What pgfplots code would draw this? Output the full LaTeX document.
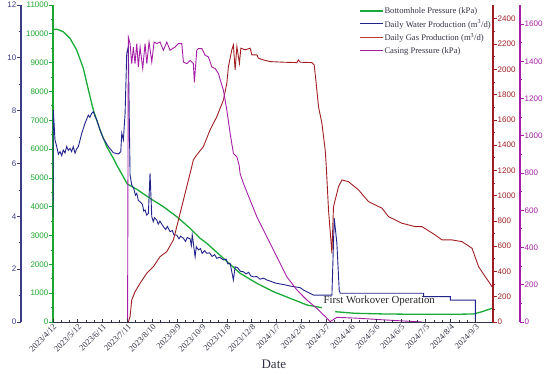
\documentclass[border=0pt]{standalone}
\usepackage{pgfplots}
\pgfplotsset{compat=1.18}
\usepackage{fontspec}
\setmainfont{Liberation Serif}
\newfontfamily\lsans{Liberation Sans}
\definecolor{cgreen}{RGB}{25,170,55}
\definecolor{cgreenax}{RGB}{30,165,45}
\definecolor{cnavy}{RGB}{35,35,140}
\definecolor{cnavyax}{RGB}{60,60,135}
\definecolor{cred}{RGB}{160,30,35}
\definecolor{credleg}{RGB}{195,55,55}
\definecolor{cpurple}{RGB}{165,30,165}
\definecolor{ctick}{RGB}{50,50,70}

\pgfplotsset{
  base/.style={scale only axis, width=440pt, height=317pt, xmin=0, xmax=531,
    /pgf/number format/assume math mode=true,
    /pgf/number format/1000 sep={},
    scaled y ticks=false,
    yticklabel style={font=\lsans\fontsize{8}{9}\selectfont, inner sep=1pt},
    major tick length=3.5pt, minor tick length=2pt,
    tick align=outside,
  },
  yonly/.style={base, hide x axis},
}

\begin{document}
\begin{tikzpicture}
% ---------- Bottomhole pressure (green, inner left) ----------
\begin{axis}[yonly, axis y line*=left,
  ymin=0, ymax=11000, ytick={0,1000,...,11000}, minor y tick num=1,
  y axis line style={cgreenax, line width=1.2pt},
  ytick style={cgreenax, line width=0.8pt},
  yticklabel style={text=cgreenax}]
\addplot[cgreen, line width=1.3pt] coordinates {
(0,10160)(4.5,10160)(12.4,10073)(20.5,9844)(28.6,9438)(36.6,8803)(44.7,7818)(48.7,7356)
(56.8,6662)(64.9,6083)(72.8,5680)(76.9,5448)(89.7,4789)(101.1,4605)(117.1,4292)(133.2,4001)
(149.4,3654)(165.5,3251)(177.5,2904)(185.6,2731)(205.7,2210)(225.8,1690)(246.0,1343)
(266.1,1051)(286.2,822)(306.4,590)(324.5,496)};
\addplot[cgreen, line width=1.3pt] coordinates {
(340.6,357)(364.7,302)(401.0,278)(441.2,267)(481.5,267)(507.6,278)(517.7,357)(529.8,475)};
\end{axis}
% ---------- Daily water production (navy, outer left) ----------
\begin{axis}[yonly, axis y line*=left,
  ymin=0, ymax=12, ytick={0,2,...,12}, minor y tick num=1,
  every outer y axis line/.append style={xshift=-32pt},
  every y tick label/.append style={xshift=-32pt},
  every y tick/.append style={xshift=-32pt},
  y axis line style={cnavyax, line width=1.2pt},
  ytick style={cnavyax, line width=0.8pt},
  yticklabel style={text=cnavyax}]
\addplot[cnavy, line width=0.9pt] coordinates {
(0,3.97)(0.4,8.02)(2.4,6.89)(4.5,6.64)(6.5,6.35)(8.5,6.45)(10.5,6.30)(12.4,6.51)(14.5,6.40)
(16.5,6.64)(18.5,6.50)(20.5,6.57)(22.5,6.45)(24.5,6.64)(26.6,6.39)(28.5,6.55)(30.6,6.64)
(34.7,7.14)(38.6,7.52)(42.6,7.83)(44.5,7.75)(46.7,7.90)(48.7,7.96)(50.5,7.80)(52.8,7.65)
(56.8,7.27)(60.7,6.95)(66.8,6.64)(72.8,6.41)(78.9,6.36)(81.8,6.45)(83.0,7.14)(84.9,6.89)
(87.0,7.90)(89.0,10.17)(90.9,10.42)(93.0,5.56)(95.0,5.19)(97.5,5.05)(99.5,4.80)(101.1,4.87)
(103,4.60)(105.1,4.55)(108,4.45)(109.5,4.20)(111.1,4.24)(113,4.05)(115.1,4.11)(117.1,5.63)
(119.2,3.99)(121.0,3.80)(122.5,3.95)(125.2,3.86)(127,3.70)(129,3.82)(133.2,3.61)(136,3.50)
(138,3.62)(141.3,3.42)(144,3.46)(146,3.30)(149.4,3.29)(152,3.15)(154,3.25)(157.4,3.17)
(160,3.05)(162,3.20)(165.5,3.14)(167,2.90)(168,3.30)(169.4,2.98)(171.5,2.47)(173,2.85)
(175.5,2.73)(178,2.78)(180,2.60)(183,2.70)(185.6,2.60)(189,2.62)(192,2.48)(195,2.55)
(197.7,2.41)(201,2.45)(205.7,2.35)(209,2.38)(211,2.20)(213.8,2.22)(217.7,1.59)(219.8,2.09)
(223,2.05)(226,1.92)(229.8,1.90)(233,1.82)(236,1.88)(239,1.74)(241.9,1.71)(246,1.72)
(250,1.62)(254,1.66)(258.1,1.59)(262,1.55)(266,1.50)(270.2,1.46)(278,1.42)(286.2,1.36)
(298.3,1.30)(302.3,1.21)(314.4,1.02)(336.6,1.02)(339.4,3.93)
(342.6,2.98)(345.4,1.21)(346.6,1.09)(447.2,1.09)(447.2,0.96)(479.5,0.96)(479.5,0.83)
(509.7,0.83)(509.7,0)};
\end{axis}
% ---------- Daily gas production (dark red, inner right) ----------
\begin{axis}[yonly, axis y line*=right,
  ymin=0, ymax=2510, ytick={0,200,...,2400}, minor y tick num=1,
  y axis line style={cred, line width=1.2pt},
  ytick style={cred, line width=0.8pt},
  yticklabel style={text=cred}]
\addplot[cred, line width=0.9pt] coordinates {
(90.9,0)(93.0,42)(95.0,174)(99.0,240)(105.1,307)(113.2,386)(121.1,438)(129.2,517)(137.3,557)
(145.3,650)(149.4,755)(157.4,966)(165.5,1178)(169.4,1283)(173.5,1323)(181.5,1389)(189.6,1521)
(197.7,1626)(205.7,1758)(209.8,1891)(211.7,2022)(215.8,2155)(217.7,2194)(219.8,1996)
(221.9,2181)(225.0,2049)(226.7,2168)(231.9,2155)(237.9,2168)(240.0,2115)(246.0,2115)
(247.9,2089)(254.0,2075)(262.1,2062)(278.1,2057)(294.3,2054)(296.2,2075)(298.3,2057)
(312.4,2054)(315.2,2036)(317.6,1891)(320.4,1705)(324.5,1574)(328.5,1362)(329.7,1244)
(332.5,887)(336.6,544)(338.5,913)(342.6,1019)(344.6,1072)(348.7,1125)(356.6,1111)
(368.7,1046)(380.8,953)(388.9,927)(397.0,901)(404.9,834)(421.1,782)(437.2,755)(445.3,755)
(461.3,689)(469.4,650)(481.5,650)(493.6,636)(505.7,584)(513.6,438)(521.7,359)(529.8,280)};
\end{axis}
% ---------- Casing pressure (purple, outer right) ----------
\begin{axis}[yonly, axis y line*=right,
  ymin=0, ymax=1702, ytick={0,200,...,1600}, minor y tick num=1,
  every outer y axis line/.append style={xshift=27pt},
  every y tick label/.append style={xshift=27pt},
  every y tick/.append style={xshift=27pt},
  y axis line style={cpurple, line width=1.2pt},
  ytick style={cpurple, line width=0.8pt},
  yticklabel style={text=cpurple}]
\addplot[cpurple, line width=0.9pt] coordinates {
(90.0,0)(90.9,1530)(93.0,1495)(95.0,1387)(97.0,1476)(99.0,1387)(101.1,1495)(103.0,1369)
(105.1,1476)(108.3,1361)(111.1,1495)(113.2,1387)(115.9,1503)(119.2,1396)(122.0,1503)
(125.2,1495)(129.2,1503)(133.2,1459)(137.3,1503)(141.3,1459)(147.3,1476)(151.3,1495)
(155.4,1495)(157.4,1396)(161.5,1387)(165.5,1405)(169.4,1387)(170.6,1287)(173.5,1459)
(175.5,1468)(179.6,1468)(183.6,1432)(187.6,1423)(191.7,1369)(195.6,1361)(199.6,1334)
(205.7,1244)(209.8,1137)(213.8,1012)(217.7,905)(221.9,887)(224.6,842)(225.8,797)
(229.8,744)(237.9,654)(246.0,565)(258.1,457)(270.2,350)(282.2,243)(294.3,172)(306.4,118)
(318.5,73)(330.6,20)(334.5,2)(342.6,25)(364.7,21)(401.0,11)(445.3,0)};
\end{axis}
% ---------- x axis, legend, annotation ----------
\begin{axis}[base, hide y axis, axis x line*=bottom, ymin=0, ymax=317,
  tick align=inside,
  xtick={0,30,...,510}, minor x tick num=2,
  xticklabels={2023/4/12,2023/5/12,2023/6/11,2023/7/11,2023/8/10,2023/9/9,2023/10/9,2023/11/8,2023/12/8,2024/1/7,2024/2/6,2024/3/7,2024/4/6,2024/5/6,2024/6/5,2024/7/5,2024/8/4,2024/9/3},
  x axis line style={ctick, line width=1pt},
  xtick style={ctick, line width=0.8pt},
  xticklabel style={rotate=45, anchor=north east, font=\fontsize{8.5}{9}\selectfont, text=ctick, inner sep=1pt},
  xlabel={Date},
  every axis x label/.style={at={(axis description cs:0.502,0)}, anchor=center, yshift=-42pt, font=\fontsize{13}{14}\selectfont, text=ctick},
  legend style={at={(axis description cs:0.695,0.997)}, anchor=north west, draw=none, fill=none,
    inner sep=0pt, row sep=2.6pt, font=\fontsize{8.6}{9.5}\selectfont, text=ctick,
    nodes={inner sep=1pt}},
  legend cell align=left,
  legend image code/.code={\draw[#1] (0pt,0pt) -- (23pt,0pt);},
]
\addlegendimage{cgreen, line width=1.5pt}
\addlegendentry{Bottomhole Pressure (kPa)}
\addlegendimage{cnavy, line width=1.2pt}
\addlegendentry{Daily Water Production (m\textsuperscript{3}/d)}
\addlegendimage{credleg, line width=1.2pt}
\addlegendentry{Daily Gas Production (m\textsuperscript{3}/d)}
\addlegendimage{cpurple, line width=1.2pt}
\addlegendentry{Casing Pressure (kPa)}
\node[font=\fontsize{10.8}{12}\selectfont, text=black!85] at (axis cs:393.7,21) {First Workover Operation};
\end{axis}
\pgfresetboundingbox
\path (-53pt,-51pt) rectangle (497pt,322pt);
\end{tikzpicture}
\end{document}
